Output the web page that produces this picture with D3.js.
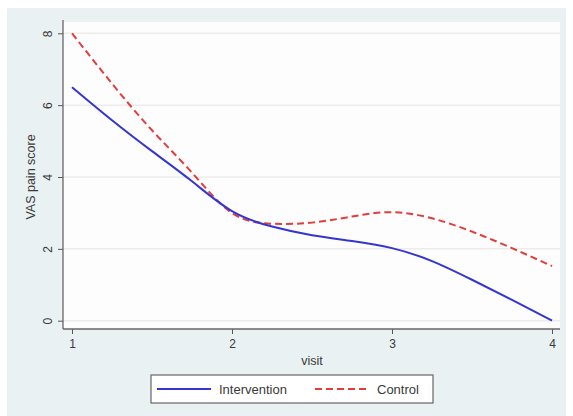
<!DOCTYPE html>
<html>
<head>
<meta charset="utf-8">
<script src="https://cdn.jsdelivr.net/npm/d3@7"></script>
<style>
  body { margin: 0; background: #fff; }
  svg { display: block; font-family: "Liberation Sans", Arial, sans-serif; }
</style>
</head>
<body>
<svg width="573" height="416"></svg>
<script>
// data
const visits = [1, 1.25, 1.5, 1.75, 2, 2.25, 2.5, 2.75, 3, 3.25, 3.5, 3.75, 4];
const intervention = [6.5, 5.58, 4.72, 3.88, 3.05, 2.62, 2.38, 2.22, 2.02, 1.66, 1.14, 0.58, 0.0];
const control = [8.0, 6.6, 5.3, 4.12, 3.0, 2.7, 2.73, 2.9, 3.02, 2.85, 2.48, 2.02, 1.52];
const xTicks = [1, 2, 3, 4];
const yTicks = [0, 2, 4, 6, 8];

const svg = d3.select('svg');

// outer graph region
svg.append('rect')
  .attr('x', 7).attr('y', 8)
  .attr('width', 559).attr('height', 408)
  .attr('fill', '#e9f1f3');

const plot = { left: 63, right: 560, top: 22, bottom: 329 };

svg.append('rect')
  .attr('x', plot.left).attr('y', plot.top)
  .attr('width', plot.right - plot.left).attr('height', plot.bottom - plot.top)
  .attr('fill', '#fdfdfd');

const x = d3.scaleLinear().domain([1, 4]).range([72, 552]);
const y = d3.scaleLinear().domain([0, 8]).range([320.7, 33.3]);

// grid lines
svg.append('g')
  .selectAll('line')
  .data(yTicks)
  .join('line')
  .attr('x1', plot.left).attr('x2', plot.right)
  .attr('y1', d => y(d)).attr('y2', d => y(d))
  .attr('stroke', '#ececec')
  .attr('stroke-width', 1.5);

// y axis
const yAxis = svg.append('g')
  .attr('transform', `translate(${plot.left},0)`)
  .call(d3.axisLeft(y).tickValues(yTicks).tickSize(5).tickSizeOuter(0));
yAxis.select('.domain').remove();
yAxis.selectAll('.tick line').attr('stroke', '#555');
yAxis.selectAll('.tick text')
  .attr('x', 0).attr('dy', 0)
  .attr('transform', 'translate(-11,0) rotate(-90)')
  .attr('text-anchor', 'middle')
  .attr('fill', '#3a3a3a')
  .style('font-size', '12px');
svg.append('line')
  .attr('x1', plot.left).attr('x2', plot.left)
  .attr('y1', plot.top - 2).attr('y2', plot.bottom)
  .attr('stroke', '#666').attr('stroke-width', 1.3);

// x axis
const xAxis = svg.append('g')
  .attr('transform', `translate(0,${plot.bottom})`)
  .call(d3.axisBottom(x).tickValues(xTicks).tickFormat(d3.format('d')).tickSize(5).tickSizeOuter(0).tickPadding(5));
xAxis.select('.domain').remove();
xAxis.selectAll('.tick line').attr('stroke', '#555');
xAxis.selectAll('.tick text')
  .attr('fill', '#3a3a3a')
  .style('font-size', '12px');
svg.append('line')
  .attr('x1', plot.left).attr('x2', plot.right)
  .attr('y1', plot.bottom).attr('y2', plot.bottom)
  .attr('stroke', '#666').attr('stroke-width', 1.3);

// axis titles
svg.append('text')
  .attr('x', 312).attr('y', 365)
  .attr('text-anchor', 'middle')
  .attr('fill', '#3a3a3a')
  .style('font-size', '12.5px')
  .text('visit');

svg.append('text')
  .attr('transform', 'translate(35,177) rotate(-90)')
  .attr('text-anchor', 'middle')
  .attr('fill', '#3a3a3a')
  .style('font-size', '12.5px')
  .text('VAS pain score');

// lines
const line = d3.line()
  .x(d => x(d[0]))
  .y(d => y(d[1]))
  .curve(d3.curveNatural);

svg.append('path')
  .datum(d3.zip(visits, control))
  .attr('d', line)
  .attr('fill', 'none')
  .attr('stroke', '#e43b3b')
  .attr('stroke-width', 2)
  .attr('stroke-dasharray', '7,4');

svg.append('path')
  .datum(d3.zip(visits, intervention))
  .attr('d', line)
  .attr('fill', 'none')
  .attr('stroke', '#3535d2')
  .attr('stroke-width', 2);

// legend
const legend = svg.append('g');
legend.append('rect')
  .attr('x', 151).attr('y', 375)
  .attr('width', 282).attr('height', 28)
  .attr('fill', '#fff')
  .attr('stroke', '#666').attr('stroke-width', 1.2);
legend.append('line')
  .attr('x1', 157).attr('x2', 211).attr('y1', 389).attr('y2', 389)
  .attr('stroke', '#3535d2').attr('stroke-width', 2);
legend.append('text')
  .attr('x', 219).attr('y', 393.5)
  .attr('fill', '#3a3a3a').style('font-size', '13px')
  .text('Intervention');
legend.append('line')
  .attr('x1', 315).attr('x2', 370).attr('y1', 389).attr('y2', 389)
  .attr('stroke', '#e43b3b').attr('stroke-width', 2)
  .attr('stroke-dasharray', '7,4');
legend.append('text')
  .attr('x', 377).attr('y', 393.5)
  .attr('fill', '#3a3a3a').style('font-size', '13px')
  .text('Control');
</script>
</body>
</html>
